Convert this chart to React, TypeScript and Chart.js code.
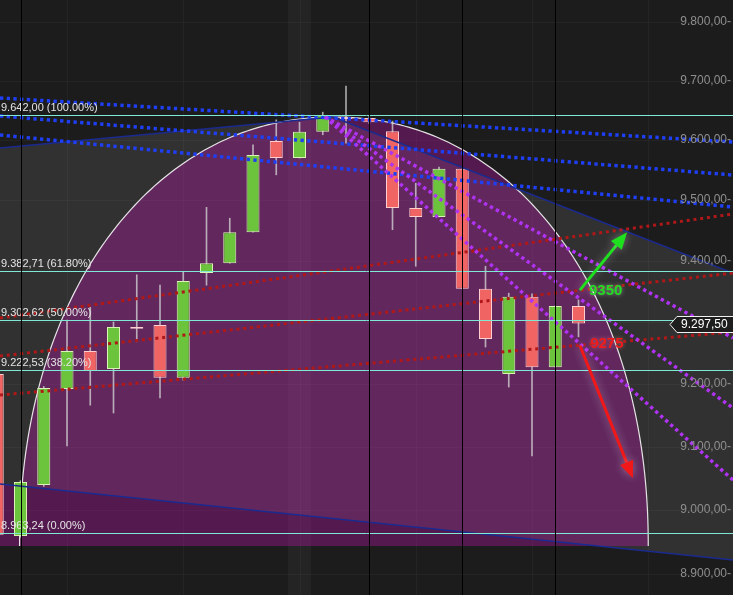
import React, { useEffect, useRef } from 'react';
import { Chart, registerables } from 'chart.js';

Chart.register(...registerables);

// ---------- data ----------
const BARS = [0, 1, 2, 3, 4, 5, 6, 7, 8, 9, 10, 11, 12, 13, 14, 15, 16, 17, 18, 19, 20, 21, 22, 23, 24, 25];
const OPEN = [9216, 8959, 9039, 9192, 9253, 9224, 9292, 9295, 9210, 9380, 9396, 9447, 9598.5, 9570, 9614, 9639, 9637, 9615, 9487, 9472, 9552, 9354, 9216, 9341, 9227, 9326];
const HIGH = [9220, 9046, 9196, 9303, 9324, 9300, 9377, 9360, 9382, 9488, 9470, 9592, 9634, 9630, 9647, 9691, 9640, 9632, 9528, 9555, 9552, 9391, 9347, 9346, 9326, 9336];
const LOW = [8958, 8957, 9037, 9101, 9166, 9153.5, 9268, 9177.5, 9206, 9360, 9396, 9447, 9542, 9570, 9609, 9595, 9628, 9451, 9391, 9472, 9354, 9259.5, 9195, 9085, 9227, 9276];
const CLOSE = [8961, 9044, 9193.5, 9253, 9221, 9292, 9289, 9210, 9367, 9396, 9447, 9575, 9570, 9614, 9642, 9635.5, 9630, 9487, 9472, 9552, 9354, 9272.5, 9341, 9227, 9326, 9297.5];

const X_MIN = 0.118;
const X_MAX = 31.645;
const Y_MIN = 8867.3;
const Y_MAX = 9837.7;

const Y_TICKS = [8900, 9000, 9100, 9200, 9300, 9400, 9500, 9600, 9700, 9800];
const GRID_BARS = [3, 8, 13, 18, 23, 28];
const SEPARATOR_BARS = [1, 16, 20, 24];
const HIGHLIGHT_BAR = 13;

const FIB_LEVELS = [9642.0, 9382.71, 9302.62, 9222.53, 8963.24];
const FIB_PCTS = [100, 61.8, 50, 38.2, 0];

// trend lines: [barStart, priceStart, barEnd, priceEnd]
const BLUE_LINES = [
  [0.118, 9670.9, 31.645, 9596.9],
  [0.118, 9640.5, 31.645, 9541.7],
  [0.118, 9608.6, 31.645, 9488.6],
];
const RED_LINES = [
  [0.118, 9306.5, 31.645, 9477.0],
  [0.118, 9245.0, 31.645, 9379.9],
  [0.118, 9182.3, 31.645, 9283.8],
];
const PURPLE_LINES = [
  [14.1, 9638.8, 31.645, 9274.1],
  [14.1, 9638.8, 31.645, 9161.5],
  [14.1, 9638.8, 31.645, 9047.0],
];
const NAVY_TOP_LEFT = [0.118, 9586.8, 14.44, 9638.8];
const NAVY_TOP_RIGHT = [14.44, 9638.8, 31.645, 9379.9];
const NAVY_BOTTOM = [0.118, 9040.7, 31.645, 8921.6];

// arc
const ARC_CENTER_BAR = 14.48;
const ARC_HALF_BARS = 13.52;
const ARC_BASE_PRICE = 8943.4;
const ARC_TOP_PRICE = 9638.8;

// annotations
const UP_ARROW = [25.06, 9352, 27.09, 9447];
const DOWN_ARROW = [25.06, 9262, 27.34, 9050];
const NOTE_TEXTS = ['9350', '9275'];
const NOTE_BARS = [25.45, 25.5];
const NOTE_PRICES = [9350, 9264];
const LAST_PRICE = 9297.5;

// ---------- helpers ----------
const fmtDE = (v: number) => {
  const [i, d] = v.toFixed(2).split('.');
  return i.replace(/\B(?=(\d{3})+(?!\d))/g, '.') + ',' + d;
};

const seg = (l: number[]) => [
  { x: l[0], y: l[1] },
  { x: l[2], y: l[3] },
];

function drawArrow(ctx: CanvasRenderingContext2D, x1: number, y1: number, x2: number, y2: number, color: string) {
  const ang = Math.atan2(y2 - y1, x2 - x1);
  const headLen = 17;
  const headW = 7;
  const bx = x2 - Math.cos(ang) * headLen;
  const by = y2 - Math.sin(ang) * headLen;
  ctx.save();
  ctx.shadowColor = 'rgba(255,255,255,0.35)';
  ctx.shadowBlur = 8;
  ctx.strokeStyle = color;
  ctx.lineWidth = 3;
  ctx.beginPath();
  ctx.moveTo(x1, y1);
  ctx.lineTo(bx, by);
  ctx.stroke();
  ctx.fillStyle = color;
  ctx.beginPath();
  ctx.moveTo(x2, y2);
  ctx.lineTo(bx + Math.cos(ang + Math.PI / 2) * headW, by + Math.sin(ang + Math.PI / 2) * headW);
  ctx.lineTo(bx + Math.cos(ang - Math.PI / 2) * headW, by + Math.sin(ang - Math.PI / 2) * headW);
  ctx.closePath();
  ctx.fill();
  ctx.restore();
}

const drawingPlugin = {
  id: 'drawings',
  beforeDatasetsDraw(chart: any) {
    const { ctx, chartArea, scales } = chart;
    const { left, top, right, bottom } = chartArea;
    const xs = scales.x;
    const ys = scales.y;
    const P = (b: number, p: number) => [xs.getPixelForValue(b), ys.getPixelForValue(p)];
    ctx.save();
    ctx.fillStyle = '#1c1c1c';
    ctx.fillRect(left, top, right - left, bottom - top);

    // grey triangle region
    const a1 = P(NAVY_TOP_LEFT[0], NAVY_TOP_LEFT[1]);
    const a2 = P(NAVY_TOP_RIGHT[0], NAVY_TOP_RIGHT[1]);
    const a3 = P(NAVY_TOP_RIGHT[2], NAVY_TOP_RIGHT[3]);
    const b2 = P(NAVY_BOTTOM[2], NAVY_BOTTOM[3]);
    const b1 = P(NAVY_BOTTOM[0], NAVY_BOTTOM[1]);
    ctx.fillStyle = '#313131';
    ctx.beginPath();
    ctx.moveTo(a1[0], a1[1]);
    ctx.lineTo(a2[0], a2[1]);
    ctx.lineTo(a3[0], a3[1]);
    ctx.lineTo(b2[0], b2[1]);
    ctx.lineTo(b1[0], b1[1]);
    ctx.closePath();
    ctx.fill();

    // highlighted column
    const hx0 = xs.getPixelForValue(HIGHLIGHT_BAR - 0.5);
    const hx1 = xs.getPixelForValue(HIGHLIGHT_BAR + 0.5);
    ctx.fillStyle = 'rgba(255,255,255,0.035)';
    ctx.fillRect(hx0, top, hx1 - hx0, bottom - top);

    // grid
    ctx.strokeStyle = 'rgba(255,255,255,0.035)';
    ctx.lineWidth = 1;
    Y_TICKS.forEach((t) => {
      const yy = Math.round(ys.getPixelForValue(t)) + 0.5;
      ctx.beginPath();
      ctx.moveTo(left, yy);
      ctx.lineTo(right, yy);
      ctx.stroke();
    });
    GRID_BARS.forEach((g) => {
      const xx = Math.round(xs.getPixelForValue(g)) + 0.5;
      ctx.beginPath();
      ctx.moveTo(xx, top);
      ctx.lineTo(xx, bottom);
      ctx.stroke();
    });

    // purple arc
    const cx = xs.getPixelForValue(ARC_CENTER_BAR);
    const cy = ys.getPixelForValue(ARC_BASE_PRICE);
    const ax = xs.getPixelForValue(ARC_CENTER_BAR + ARC_HALF_BARS) - cx;
    const by = cy - ys.getPixelForValue(ARC_TOP_PRICE);
    const n = 2.1;
    const pts: number[][] = [];
    for (let i = 0; i <= 240; i++) {
      const t = Math.PI - (Math.PI * i) / 240;
      const c = Math.cos(t);
      const s = Math.sin(t);
      pts.push([cx + ax * Math.sign(c) * Math.pow(Math.abs(c), 2 / n), cy - by * Math.pow(Math.abs(s), 2 / n)]);
    }
    const navyY = (xx: number) => b1[1] + ((b2[1] - b1[1]) * (xx - b1[0])) / (b2[0] - b1[0]);
    ctx.fillStyle = 'rgba(192,22,182,0.34)';
    ctx.beginPath();
    pts.forEach((p, i) => (i === 0 ? ctx.moveTo(p[0], p[1]) : ctx.lineTo(p[0], p[1])));
    ctx.closePath();
    ctx.moveTo(left, navyY(left));
    ctx.lineTo(cx, navyY(cx));
    ctx.lineTo(cx, cy);
    ctx.lineTo(left, cy);
    ctx.closePath();
    ctx.fill('nonzero');
    ctx.strokeStyle = 'rgba(238,238,238,0.95)';
    ctx.lineWidth = 1.2;
    ctx.beginPath();
    pts.forEach((p, i) => (i === 0 ? ctx.moveTo(p[0], p[1]) : ctx.lineTo(p[0], p[1])));
    ctx.stroke();
    ctx.restore();
  },
  afterDatasetsDraw(chart: any) {
    const { ctx, chartArea, scales } = chart;
    const { left, top, right, bottom } = chartArea;
    const xs = scales.x;
    const ys = scales.y;
    ctx.save();

    // fib lines
    ctx.strokeStyle = '#7fe9d6';
    ctx.lineWidth = 1;
    FIB_LEVELS.forEach((lv) => {
      const yy = Math.round(ys.getPixelForValue(lv)) + 0.5;
      ctx.beginPath();
      ctx.moveTo(left, yy);
      ctx.lineTo(right, yy);
      ctx.stroke();
    });

    // fib labels
    ctx.font = '11px "Liberation Sans", Arial, sans-serif';
    ctx.fillStyle = '#e4e4e4';
    ctx.textAlign = 'left';
    ctx.textBaseline = 'alphabetic';
    FIB_LEVELS.forEach((lv, i) => {
      const yy = ys.getPixelForValue(lv);
      ctx.fillText(`${fmtDE(lv)} (${FIB_PCTS[i].toFixed(2)}%)`, left + 1, yy - 4);
    });

    // session separators
    ctx.strokeStyle = '#000000';
    ctx.lineWidth = 1;
    SEPARATOR_BARS.forEach((sb) => {
      const xx = Math.round(xs.getPixelForValue(sb)) + 0.5;
      ctx.beginPath();
      ctx.moveTo(xx, top);
      ctx.lineTo(xx, bottom);
      ctx.stroke();
    });

    // arrows
    drawArrow(ctx, xs.getPixelForValue(UP_ARROW[0]), ys.getPixelForValue(UP_ARROW[1]), xs.getPixelForValue(UP_ARROW[2]), ys.getPixelForValue(UP_ARROW[3]), '#1fe01f');
    drawArrow(ctx, xs.getPixelForValue(DOWN_ARROW[0]), ys.getPixelForValue(DOWN_ARROW[1]), xs.getPixelForValue(DOWN_ARROW[2]), ys.getPixelForValue(DOWN_ARROW[3]), '#f01818');

    // notes
    ctx.font = 'bold 15px "Liberation Sans", Arial, sans-serif';
    ctx.textBaseline = 'middle';
    NOTE_TEXTS.forEach((t, i) => {
      ctx.save();
      ctx.shadowColor = i === 0 ? 'rgba(255,255,255,0.45)' : 'rgba(255,140,140,0.5)';
      ctx.shadowBlur = 4;
      ctx.fillStyle = i === 0 ? '#22dd22' : '#ee1c1c';
      ctx.fillText(t, xs.getPixelForValue(NOTE_BARS[i]), ys.getPixelForValue(NOTE_PRICES[i]));
      ctx.restore();
    });

    // right axis labels
    ctx.font = '12px "Liberation Sans", Arial, sans-serif';
    ctx.fillStyle = '#8e8e8e';
    ctx.textAlign = 'right';
    ctx.textBaseline = 'middle';
    Y_TICKS.forEach((t) => {
      ctx.fillText(fmtDE(t) + '-', right - 2, ys.getPixelForValue(t));
    });

    // last price label
    const ly = Math.round(ys.getPixelForValue(LAST_PRICE)) + 0.5;
    const lx = right - 63;
    ctx.fillStyle = '#1e1e1e';
    ctx.strokeStyle = '#f0f0f0';
    ctx.lineWidth = 1;
    ctx.beginPath();
    ctx.moveTo(lx, ly);
    ctx.lineTo(lx + 7, ly - 8);
    ctx.lineTo(right + 2, ly - 8);
    ctx.lineTo(right + 2, ly + 8);
    ctx.lineTo(lx + 7, ly + 8);
    ctx.closePath();
    ctx.fill();
    ctx.stroke();
    ctx.fillStyle = '#ffffff';
    ctx.textAlign = 'left';
    ctx.font = '12px "Liberation Sans", Arial, sans-serif';
    ctx.fillText(fmtDE(LAST_PRICE), lx + 11, ly);

    ctx.restore();
  },
};

export default function App() {
  const ref = useRef<HTMLCanvasElement | null>(null);
  useEffect(() => {
    document.body.style.margin = '0';
    const canvas = ref.current;
    if (!canvas) return;
    const up = BARS.map((_, i) => CLOSE[i] >= OPEN[i]);
    const lineDs = (l: number[], color: string, width: number, dash: number[], order: number, cap: string = 'butt') => ({
      type: 'line',
      data: seg(l),
      borderColor: color,
      borderWidth: width,
      borderDash: dash,
      borderCapStyle: cap,
      pointRadius: 0,
      fill: false,
      tension: 0,
      order,
    });
    const datasets: any[] = [
      {
        type: 'bar',
        data: BARS.map((b, i) => ({ x: b, y: [LOW[i], HIGH[i]] })),
        backgroundColor: 'rgba(215,215,215,0.75)',
        borderWidth: 0,
        barThickness: 1,
        grouped: false,
        order: 20,
      },
      {
        type: 'bar',
        data: BARS.map((b, i) => ({ x: b, y: [OPEN[i], CLOSE[i]] })),
        backgroundColor: up.map((u) => (u ? '#6cc43c' : '#f06464')),
        borderColor: up.map((u) => (u ? '#dcf3b8' : '#ffcfcf')),
        borderWidth: 1,
        borderSkipped: false,
        grouped: false,
        barPercentage: 0.56,
        categoryPercentage: 1,
        order: 19,
      },
      lineDs(NAVY_TOP_LEFT, '#1b2a8f', 1.5, [], 9),
      lineDs(NAVY_TOP_RIGHT, '#1b2a8f', 1.5, [], 9),
      lineDs(NAVY_BOTTOM, '#1b2a8f', 1.5, [], 9),
      ...BLUE_LINES.map((l) => lineDs(l, '#1f3ff5', 3.5, [3.3, 3.4], 3)),
      ...RED_LINES.map((l) => lineDs(l, '#b01818', 3, [3, 3.8], 2)),
      ...PURPLE_LINES.map((l) => lineDs(l, '#b032f2', 3.5, [3.3, 3.4], 1)),
    ];
    const chart = new Chart(canvas, {
      type: 'bar',
      data: { datasets },
      options: {
        animation: false,
        responsive: false,
        maintainAspectRatio: false,
        devicePixelRatio: 1,
        layout: { padding: 0, autoPadding: false },
        events: [],
        plugins: { legend: { display: false }, tooltip: { enabled: false } },
        scales: {
          x: { type: 'linear', min: X_MIN, max: X_MAX, display: false, offset: false },
          y: { type: 'logarithmic', min: Y_MIN, max: Y_MAX, display: false },
        },
      } as any,
      plugins: [drawingPlugin],
    } as any);
    return () => chart.destroy();
  }, []);
  return (
    <div style={{ position: 'fixed', left: 0, top: 0, width: 733, height: 595, background: '#1c1c1c' }}>
      <canvas ref={ref} width={733} height={595} style={{ display: 'block' }} />
    </div>
  );
}
